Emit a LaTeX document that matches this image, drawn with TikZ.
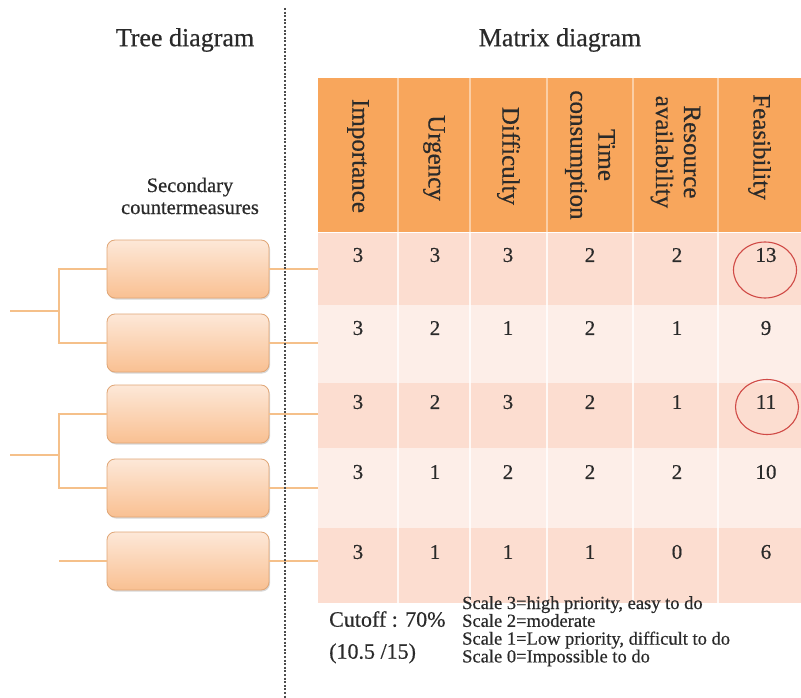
\documentclass[tikz,border=0pt]{standalone}
\usepackage{fontspec}
\setmainfont{Liberation Serif}[FakeBold=0.5]
\usetikzlibrary{shadows,shapes.geometric}
\definecolor{hdr}{HTML}{F8A65C}
\definecolor{rowA}{HTML}{FCDDD0}
\definecolor{rowB}{HTML}{FDEEE8}
\definecolor{treeln}{HTML}{F5C08A}
\definecolor{boxtop}{HTML}{FDE8D8}
\definecolor{boxbot}{HTML}{F9C092}
\definecolor{boxedge}{HTML}{E0A676}
\definecolor{circ}{HTML}{D04A46}
\definecolor{txt}{HTML}{2A2A2A}
\tikzset{
  title/.style={font=\fontsize{26}{30}\selectfont, text=txt, inner sep=0pt},
  hdrtxt/.style={font=\fontsize{25}{28}\selectfont, text=txt, rotate=-90, align=center, inner sep=0pt},
  num/.style={font=\fontsize{21}{24}\selectfont, text=txt, inner sep=0pt},
  band/.style={draw=none, inner sep=0pt, outer sep=0pt, minimum width=483pt},
  cbox/.style={draw=boxedge, line width=0.8pt, rounded corners=8pt, top color=boxtop, bottom color=boxbot,
     minimum width=162pt, minimum height=58pt, inner sep=0pt,
     drop shadow={shadow xshift=1pt, shadow yshift=-1.5pt, fill=black!30, opacity=0.5}},
  tree/.style={draw=treeln, line width=1.4pt},
  sep/.style={draw=white, line width=1.2pt, opacity=0.8},
  ring/.style={draw=circ, line width=1.1pt, ellipse, inner sep=0pt}
}
\begin{document}
\begin{tikzpicture}[x=1pt,y=-1pt]
\useasboundingbox (0,0) rectangle (801,698);
\fill[white] (0,0) rectangle (801,698);

% titles
\node[title] (tt) at (185,40) {Tree diagram};
\node[title] (mt) at (560,40) {Matrix diagram};
\node[font=\fontsize{20.5}{22}\selectfont, text=txt, align=center, inner sep=0pt] (sc) at (190,196) {Secondary\\countermeasures};

% header band
\node[band, fill=hdr, minimum height=154pt] (head) at (559.5,155) {};
% rows
\node[band, fill=rowA, minimum height=72pt] (row1) at (559.5,269) {};
\node[band, fill=rowB, minimum height=78pt] (row2) at (559.5,344) {};
\node[band, fill=rowA, minimum height=65pt] (row3) at (559.5,415.5) {};
\node[band, fill=rowB, minimum height=80pt] (row4) at (559.5,488) {};
\node[band, fill=rowA, minimum height=75pt] (row5) at (559.5,565.5) {};

% separators
\foreach \x in {398,470,547,633,718} {
  \draw[draw=hdr!55!white, line width=1.2pt] (\x,78) -- (\x,232);
  \draw[sep] (\x,233) -- (\x,603);
}
\draw[draw=white, line width=1.2pt] (318,232.5) -- (801,232.5);

% header texts
\node[hdrtxt] (h1) at (358,156) {Importance};
\node[hdrtxt] (h2) at (434,158) {Urgency};
\node[hdrtxt] (h3) at (508.5,156) {Difficulty};
\node[hdrtxt] (h4) at (590,155) {Time\\consumption};
\node[hdrtxt] (h5) at (675.5,152) {Resource\\availability};
\node[hdrtxt] (h6) at (759.5,147) {Feasibility};

% numbers
\foreach \y/\a/\b/\c/\d/\e/\f [count=\r] in {255/3/3/3/2/2/13, 328/3/2/1/2/1/9, 402/3/2/3/2/1/11, 472/3/1/2/2/2/10, 552/3/1/1/1/0/6} {
  \node[num] (n\r a) at (358,\y) {\a};
  \node[num] (n\r b) at (435,\y) {\b};
  \node[num] (n\r c) at (508,\y) {\c};
  \node[num] (n\r d) at (590,\y) {\d};
  \node[num] (n\r e) at (677,\y) {\e};
  \node[num] (n\r f) at (766,\y) {\f};
}
\node[ring, minimum width=63pt, minimum height=56pt] (c13) at (765,270) {};
\node[ring, minimum width=63pt, minimum height=55pt] (c11) at (767,407) {};

% boxes
\node[cbox] (b1) at (188,269) {};
\node[cbox] (b2) at (188,343) {};
\node[cbox] (b3) at (188,414) {};
\node[cbox] (b4) at (188,488) {};
\node[cbox] (b5) at (188,561) {};

% tree
\coordinate (j1) at (59,311);
\coordinate (r1) at (10,311);
\coordinate (j2) at (59,455);
\coordinate (r2) at (10,455);
\coordinate (j3) at (59,561);
\draw[tree] (b1.west) -| (j1) |- (b2.west);
\draw[tree] (j1) -- (r1);
\draw[tree] (b3.west) -| (j2) |- (b4.west);
\draw[tree] (j2) -- (r2);
\draw[tree] (j3) -- (b5.west);
\foreach \i in {1,...,5} {
  \draw[tree] (b\i.east) -- (b\i.east -| row1.west);
}

% dashed divider
\coordinate (dtop) at (285,8);
\coordinate (dbot) at (285,698);
\draw[draw=black!70, line width=1.8pt, dash pattern=on 2pt off 1.6pt] (dtop) -- (dbot);

% notes
\node[font=\fontsize{22}{32}\selectfont, text=txt, align=left, anchor=north west, inner sep=0pt] (cut) at (329,611) {Cutoff : 70\%\\(10.5 /15)};
\node[font=\fontsize{18.5}{17.8}\selectfont, text=txt, align=left, anchor=north west, inner sep=0pt] (scale) at (462,596) {Scale 3=high priority, easy to do\\Scale 2=moderate\\Scale 1=Low priority, difficult to do\\Scale 0=Impossible to do};
\end{tikzpicture}
\end{document}
